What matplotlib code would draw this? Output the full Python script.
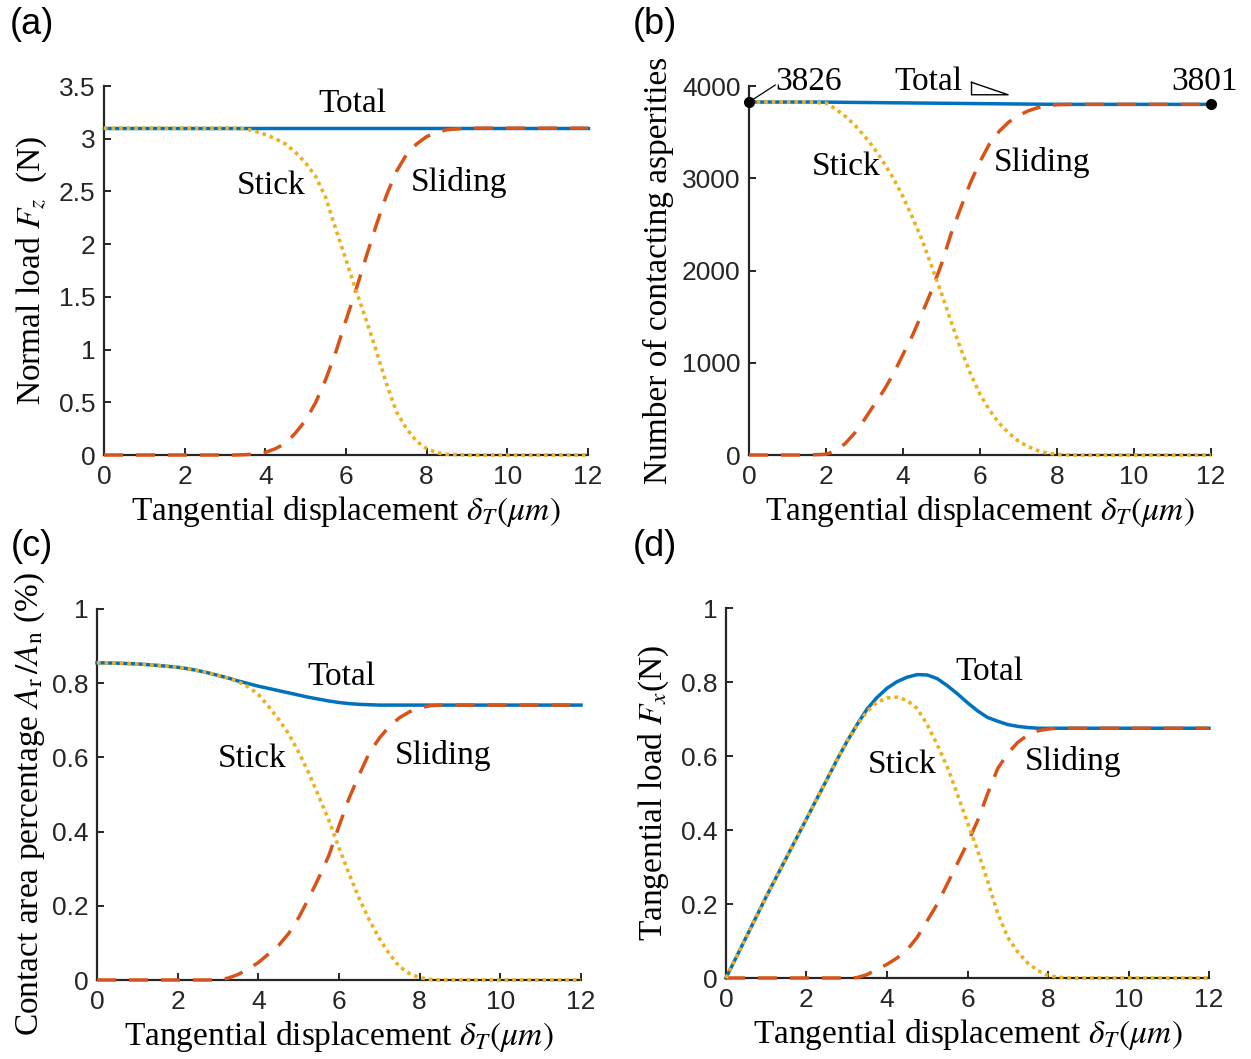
import matplotlib
matplotlib.use("Agg")
import matplotlib.pyplot as plt

plt.rcParams['font.family'] = ['Liberation Sans', 'DejaVu Sans']
plt.rcParams['mathtext.fontset'] = 'stix'

# tangential displacement (um), shared sampling of all curves
x = [0, 0.5, 1, 1.5, 2, 2.25, 2.5, 2.75, 3, 3.25, 3.5, 3.75, 4, 4.25, 4.5, 4.75,
     5, 5.25, 5.5, 5.75, 6, 6.25, 6.5, 6.75, 7, 7.25, 7.5, 7.75, 8, 8.25, 8.5,
     9, 9.5, 10, 11, 12]

# (a) normal load Fz (N)
total_a = [3.1] * 36
stick_a = [3.1, 3.1, 3.1, 3.1, 3.1, 3.1, 3.1, 3.1, 3.1, 3.1, 3.095, 3.07, 3.04, 3.0, 2.95, 2.87,
           2.77, 2.64, 2.44, 2.14, 1.85, 1.56, 1.28, 0.99, 0.68, 0.41, 0.25, 0.13, 0.06, 0.022, 0.007,
           0, 0, 0, 0, 0]
sliding_a = [0, 0, 0, 0, 0, 0, 0, 0, 0, 0, 0.003, 0.01, 0.025, 0.06, 0.11, 0.21,
             0.33, 0.5, 0.72, 0.98, 1.28, 1.57, 1.88, 2.18, 2.46, 2.69, 2.85, 2.95, 3.02, 3.06, 3.085,
             3.1, 3.1, 3.1, 3.1, 3.1]

# (b) number of contacting asperities
total_b = [3826, 3826, 3826, 3826, 3825, 3824, 3823, 3822, 3821, 3820, 3819, 3818, 3817, 3816, 3815, 3814,
           3813, 3812, 3811, 3810, 3809, 3808, 3807, 3806, 3805, 3804, 3803, 3802, 3801.5, 3801, 3801,
           3801, 3801, 3801, 3801, 3801]
stick_b = [3826, 3826, 3826, 3826, 3815, 3750, 3673, 3575, 3458, 3325, 3168, 3000, 2800, 2570, 2325, 2040,
           1750, 1445, 1150, 885, 659, 485, 343, 236, 150, 90, 48, 20, 7, 2, 0,
           0, 0, 0, 0, 0]
sliding_b = [0, 0, 0, 0, 8, 45, 125, 240, 385, 545, 700, 880, 1090, 1300, 1540, 1790,
             2070, 2400, 2680, 2950, 3180, 3375, 3510, 3610, 3680, 3730, 3765, 3788, 3797, 3800, 3801,
             3801, 3801, 3801, 3801, 3801]

# (c) contact area percentage Ar/An (%)
total_c = [0.855, 0.854, 0.852, 0.848, 0.843, 0.839, 0.834, 0.828, 0.821, 0.814, 0.806, 0.799, 0.792, 0.786, 0.78, 0.774,
           0.768, 0.762, 0.757, 0.752, 0.748, 0.745, 0.743, 0.742, 0.741, 0.741, 0.741, 0.741, 0.741, 0.741, 0.741,
           0.741, 0.741, 0.741, 0.741, 0.741]
stick_c = [0.855, 0.854, 0.852, 0.848, 0.843, 0.839, 0.834, 0.828, 0.821, 0.814, 0.804, 0.79, 0.77, 0.738, 0.703, 0.664,
           0.614, 0.558, 0.495, 0.43, 0.356, 0.286, 0.22, 0.162, 0.112, 0.07, 0.036, 0.017, 0.006, 0.002, 0,
           0, 0, 0, 0, 0]
sliding_c = [0, 0, 0, 0, 0, 0, 0, 0, 0.001, 0.005, 0.015, 0.03, 0.047, 0.07, 0.093, 0.125,
             0.168, 0.22, 0.276, 0.336, 0.415, 0.49, 0.553, 0.612, 0.652, 0.684, 0.707, 0.723, 0.734, 0.739, 0.741,
             0.741, 0.741, 0.741, 0.741, 0.741]

# (d) tangential load Fx (N)
total_d = [0, 0.11, 0.22, 0.325, 0.43, 0.483, 0.535, 0.588, 0.638, 0.684, 0.726, 0.758, 0.783, 0.801, 0.813, 0.82,
           0.819, 0.809, 0.79, 0.768, 0.744, 0.722, 0.704, 0.694, 0.685, 0.68, 0.677, 0.675, 0.675, 0.675, 0.675,
           0.675, 0.675, 0.675, 0.675, 0.675]
stick_d = [0, 0.11, 0.22, 0.325, 0.43, 0.483, 0.535, 0.588, 0.638, 0.682, 0.72, 0.745, 0.757, 0.759, 0.75, 0.728,
           0.685, 0.63, 0.57, 0.496, 0.42, 0.345, 0.262, 0.175, 0.11, 0.07, 0.04, 0.02, 0.007, 0.002, 0,
           0, 0, 0, 0, 0]
sliding_d = [0, 0, 0, 0, 0, 0, 0, 0, 0, 0.001, 0.009, 0.023, 0.037, 0.054, 0.076, 0.11,
             0.155, 0.2, 0.255, 0.31, 0.365, 0.425, 0.498, 0.566, 0.607, 0.637, 0.657, 0.668, 0.673, 0.675, 0.675,
             0.675, 0.675, 0.675, 0.675, 0.675]

BLUE, ORANGE, YELLOW = '#0072BD', '#D95319', '#EDB120'
AXC = '#262626'
W, H = 1251, 1059
SERIF = 'Liberation Serif'
LFS = 24


def make_ax(fig, x0, x12, y0, ytop):
    ax = fig.add_axes([x0 / W, 1 - y0 / H, (x12 - x0) / W, (y0 - ytop) / H])
    for s in ['top', 'right']:
        ax.spines[s].set_visible(False)
    for s in ['left', 'bottom']:
        ax.spines[s].set_color(AXC)
        ax.spines[s].set_linewidth(1.6)
    ax.tick_params(direction='in', length=5, width=1.4, colors=AXC, labelsize=19,
                   top=False, right=False)
    ax.tick_params(axis='x', pad=7.5)
    ax.tick_params(axis='y', pad=6)
    ax.set_xlim(0, 12)
    ax.set_xticks([0, 2, 4, 6, 8, 10, 12])
    ax.xaxis.set_major_formatter(matplotlib.ticker.FormatStrFormatter('%g'))
    ax.yaxis.set_major_formatter(matplotlib.ticker.FormatStrFormatter('%g'))
    ax.patch.set_visible(False)
    return ax


def draw(ax, total, stick, sliding):
    ax.plot(x, total, color=BLUE, lw=2.5, zorder=3, clip_on=False)
    ax.plot(x, sliding, color=ORANGE, lw=2.5, dashes=(5.5, 3.7), zorder=4, clip_on=False)
    ax.plot(x, stick, color=YELLOW, lw=2.6, dashes=(1, 1.1), zorder=5, clip_on=False)
    ax.set_xlabel(r'Tangential displacement $\delta_T(\mu m)$', family=SERIF, fontsize=LFS,
                  color='black', labelpad=3)


def note(ax, xx, yy, s):
    ax.text(xx, yy, s, family=SERIF, fontsize=LFS, ha='center', va='center', clip_on=False)


fig = plt.figure(figsize=(12.51, 10.59), dpi=100)

# (a)
ax = make_ax(fig, 104, 588, 455, 86)
draw(ax, total_a, stick_a, sliding_a)
ax.set_ylim(0, 3.5)
ax.set_yticks([0, 0.5, 1, 1.5, 2, 2.5, 3, 3.5])
ax.set_ylabel(r'Normal load $F_z\;$ (N)', family=SERIF, fontsize=LFS, labelpad=7)
note(ax, 6.15, 3.33, 'Total')
note(ax, 4.14, 2.55, 'Stick')
note(ax, 8.8, 2.58, 'Sliding')

# (b)
ax = make_ax(fig, 749, 1211, 455, 86)
draw(ax, total_b, stick_b, sliding_b)
ax.set_ylim(0, 4000)
ax.set_yticks([0, 1000, 2000, 3000, 4000])
ax.set_ylabel('Number of contacting asperities', family=SERIF, fontsize=LFS, labelpad=6)
ax.plot([x[0], x[-1]], [total_b[0], total_b[-1]], 'o', color='black', ms=7, zorder=6, clip_on=False)
ax.plot([0, 0.68], [total_b[0], 4010], color='black', lw=0.9, clip_on=False)
ax.text(0.68, 4050, '%d' % total_b[0], family=SERIF, fontsize=LFS, ha='left', va='center')
ax.text(12.7, 4050, '%d' % total_b[-1], family=SERIF, fontsize=LFS, ha='right', va='center')
ax.plot([5.78, 5.78, 6.73, 5.78], [4040, 3905, 3905, 4040], color='black', lw=1.0, clip_on=False)
note(ax, 4.65, 4045, 'Total')
note(ax, 2.52, 3130, 'Stick')
note(ax, 7.61, 3174, 'Sliding')

# (c)
ax = make_ax(fig, 97, 581, 980, 609)
draw(ax, total_c, stick_c, sliding_c)
ax.set_ylim(0, 1)
ax.set_yticks([0, 0.2, 0.4, 0.6, 0.8, 1])
ax.set_ylabel(r'Contact area percentage $A_\mathrm{r}\,/A_\mathrm{n}$ (%)', family=SERIF,
              fontsize=LFS)
ax.yaxis.set_label_coords(-0.103, 0.475)
note(ax, 6.06, 0.817, 'Total')
note(ax, 3.85, 0.596, 'Stick')
note(ax, 8.57, 0.604, 'Sliding')

# (d)
ax = make_ax(fig, 726, 1209, 978, 608)
draw(ax, total_d, stick_d, sliding_d)
ax.set_ylim(0, 1)
ax.set_yticks([0, 0.2, 0.4, 0.6, 0.8, 1])
ax.set_ylabel(r'Tangential load $F_x$(N)', family=SERIF, fontsize=LFS, labelpad=7)
note(ax, 6.54, 0.827, 'Total')
note(ax, 4.38, 0.576, 'Stick')
note(ax, 8.63, 0.584, 'Sliding')

for lab, px, py in [('(a)', 32, 24), ('(b)', 655, 24), ('(c)', 32, 546), ('(d)', 655, 546)]:
    fig.text(px / W, 1 - py / H, lab, fontsize=26, ha='center', va='center')

fig.savefig('out.png', dpi=100)
